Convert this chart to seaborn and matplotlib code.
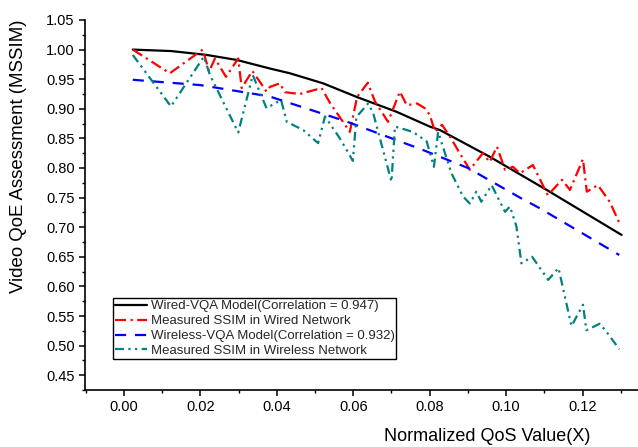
import seaborn as sns
import matplotlib.pyplot as plt
import numpy as np
from matplotlib.ticker import MultipleLocator

# values

wired_model_x = [0.0023, 0.0124, 0.0216, 0.0295, 0.0382, 0.0434, 0.0521, 0.0609,
                 0.0713, 0.0800, 0.0827, 0.0957, 0.1106, 0.1302]
wired_model_y = [1.000, 0.9975, 0.991, 0.9825, 0.968, 0.960, 0.943, 0.920,
                 0.895, 0.870, 0.864, 0.819, 0.763, 0.687]

wireless_model_x = [0.0023, 0.0200, 0.0380, 0.0580, 0.0780, 0.0900, 0.1036, 0.1088, 0.1296]
wireless_model_y = [0.949, 0.940, 0.921, 0.879, 0.831, 0.800, 0.750, 0.732, 0.653]

wired_meas_x = [0.0023, 0.0120, 0.0206, 0.0223, 0.0238, 0.0267, 0.0299, 0.0308,
                0.0336, 0.0373, 0.0382, 0.0408, 0.0421, 0.0460, 0.0517, 0.0539,
                0.0591, 0.0610, 0.0638, 0.0657, 0.0691, 0.0722, 0.0740, 0.0767,
                0.0787, 0.0800, 0.0814, 0.0832, 0.0853, 0.0874, 0.0905, 0.0939,
                0.0957, 0.0976, 0.0997, 0.1018, 0.1036, 0.1070, 0.1109, 0.1146,
                0.1167, 0.1201, 0.1211, 0.1240, 0.1271, 0.1295]
wired_meas_y = [1.000, 0.960, 1.000, 0.963, 0.985, 0.954, 0.985, 0.935,
                0.964, 0.929, 0.937, 0.943, 0.928, 0.925, 0.935, 0.910,
                0.861, 0.920, 0.944, 0.912, 0.878, 0.929, 0.906, 0.909,
                0.901, 0.890, 0.861, 0.873, 0.853, 0.830, 0.797, 0.825,
                0.810, 0.836, 0.797, 0.802, 0.791, 0.805, 0.754, 0.780,
                0.763, 0.815, 0.760, 0.771, 0.743, 0.709]

wireless_meas_x = [0.0023, 0.0123, 0.0209, 0.0225, 0.0299, 0.0337, 0.0373, 0.0411,
                   0.0426, 0.0469, 0.0508, 0.0526, 0.0565, 0.0599, 0.0608, 0.0639,
                   0.0652, 0.0700, 0.0709, 0.0756, 0.0792, 0.0811, 0.0822, 0.0857,
                   0.0887, 0.0905, 0.0922, 0.0935, 0.0962, 0.0997, 0.1010, 0.1027,
                   0.1040, 0.1068, 0.1110, 0.1137, 0.1171, 0.1201, 0.1210, 0.1245,
                   0.1263, 0.1296]
wireless_meas_y = [0.991, 0.904, 0.988, 0.957, 0.860, 0.957, 0.901, 0.915,
                   0.878, 0.864, 0.842, 0.887, 0.850, 0.812, 0.886, 0.909,
                   0.893, 0.777, 0.870, 0.861, 0.845, 0.802, 0.861, 0.791,
                   0.752, 0.740, 0.760, 0.743, 0.771, 0.726, 0.735, 0.701,
                   0.639, 0.650, 0.611, 0.631, 0.533, 0.569, 0.526, 0.537,
                   0.523, 0.494]

labels = ['Wired-VQA Model(Correlation = 0.947)',
          'Measured SSIM in Wired Network',
          'Wireless-VQA Model(Correlation = 0.932)',
          'Measured SSIM in Wireless Network']

sns.set_theme(style='ticks')
plt.rcParams['font.family'] = ['Liberation Sans', 'DejaVu Sans']

fig = plt.figure(figsize=(6.38, 4.47), dpi=100)
ax = fig.add_axes([0.1332, 0.1275, 0.8668, 0.8278])

sns.lineplot(x=wired_model_x, y=wired_model_y, ax=ax, color='black',
             linewidth=1.6, label=labels[0], estimator=None)
sns.lineplot(x=wired_meas_x, y=wired_meas_y, ax=ax, color='#ff0000',
             linewidth=1.6, linestyle=(0, (5, 2, 1, 2)), label=labels[1], estimator=None)
sns.lineplot(x=wireless_model_x, y=wireless_model_y, ax=ax, color='#0000ff',
             linewidth=1.6, linestyle=(0, (5, 4)), label=labels[2], estimator=None)
sns.lineplot(x=wireless_meas_x, y=wireless_meas_y, ax=ax, color='#008080',
             linewidth=1.6, linestyle=(0, (4, 2, 1, 2, 1, 2)), label=labels[3], estimator=None)

ax.set_xlim(-0.0102, 0.1345)
ax.set_ylim(0.425, 1.05)
ax.xaxis.set_major_locator(MultipleLocator(0.02))
ax.xaxis.set_minor_locator(MultipleLocator(0.01))
ax.yaxis.set_major_locator(MultipleLocator(0.05))
ax.yaxis.set_minor_locator(MultipleLocator(0.025))
ax.xaxis.set_major_formatter(lambda v, p: f'{v:.2f}')
ax.yaxis.set_major_formatter(lambda v, p: f'{v:.2f}')
ax.tick_params(which='major', length=4, width=1.1, labelsize=10.5, color='black',
               labelcolor='black', direction='out')
ax.tick_params(which='minor', length=2.3, width=1.0, color='black', direction='out')

sns.despine(ax=ax)
for s in ['left', 'bottom']:
    ax.spines[s].set_color('black')
    ax.spines[s].set_linewidth(1.2)

ax.set_xlabel('Normalized QoS Value(X)', fontsize=13, color='black')
ax.xaxis.set_label_coords(0.728, -0.103)
ax.set_ylabel('Video QoE Assessment (MSSIM)', fontsize=13.4, color='black')
ax.yaxis.set_label_coords(-0.104, 0.631)

leg = ax.legend(loc='lower left', bbox_to_anchor=(0.0506, 0.0838), borderaxespad=0,
                fontsize=9.5, handlelength=2.4, handletextpad=0.3, borderpad=0.15,
                labelspacing=0.2, fancybox=False, framealpha=1, edgecolor='black')
leg.get_frame().set_linewidth(1.0)

plt.savefig('out.png', dpi=100)
